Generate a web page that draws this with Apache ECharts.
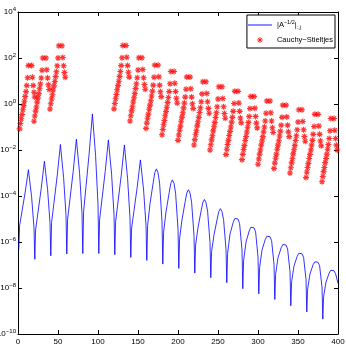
<!DOCTYPE html>
<html>
<head>
<meta charset="utf-8">
<script src="https://cdn.jsdelivr.net/npm/echarts@6/dist/echarts.min.js"></script>
<style>
html, body { margin: 0; padding: 0; background: #fff; }
#main { width: 346px; height: 346px; }
</style>
</head>
<body>
<div id="main"></div>
<script>
// x positions and log10 values of the blue curve
var blueX = [
    1, 2, 5, 9, 13, 17, 20,
    21, 22, 25, 29, 33, 37, 40,
    41, 42, 45, 49, 53, 57, 60,
    61, 62, 65, 69, 73, 77, 80,
    81, 82, 85, 89, 93, 97, 100,
    101, 102, 105, 109, 113, 117, 120,
    121, 122, 125, 129, 133, 137, 140,
    141, 142, 145, 149, 153, 157, 160,
    161, 162, 165, 169, 171, 173, 175, 177, 180,
    181, 182, 185, 189, 191, 193, 195, 197, 200,
    201, 202, 205, 209, 211, 213, 215, 217, 220,
    221, 222, 225, 229, 231, 233, 235, 237, 240,
    241, 242, 245, 249, 251, 253, 255, 257, 260,
    261, 262, 265, 269, 271, 273, 275, 277, 280,
    281, 282, 285, 289, 291, 293, 295, 297, 300,
    301, 302, 305, 309, 311, 313, 315, 317, 320,
    321, 322, 325, 329, 331, 333, 335, 337, 340,
    341, 342, 345, 349, 351, 353, 355, 357, 360,
    361, 362, 365, 369, 371, 373, 375, 377, 380,
    381, 382, 385, 389, 391, 393, 395, 397, 400
];
var blueExp = [
    -6.33, -5.29, -4.66, -3.83, -2.86, -4.03, -5.39,
    -6.75, -5.47, -4.71, -3.68, -2.49, -3.72, -5.16,
    -6.60, -5.15, -4.28, -3.12, -1.76, -3.19, -4.85,
    -6.52, -5.02, -4.12, -2.93, -1.53, -3.02, -4.76,
    -6.50, -4.68, -3.59, -2.13, -0.43, -2.25, -4.38,
    -6.50, -5.02, -4.13, -2.94, -1.56, -3.06, -4.80,
    -6.55, -5.12, -4.26, -3.12, -1.78, -3.25, -4.96,
    -6.67, -5.40, -4.63, -3.62, -2.43, -3.74, -5.27,
    -6.80, -5.29, -4.33, -3.42, -2.98, -2.82, -2.99, -3.44, -5.10,
    -6.96, -5.57, -4.69, -3.85, -3.45, -3.30, -3.45, -3.88, -5.42,
    -7.15, -5.85, -5.03, -4.24, -3.87, -3.73, -3.87, -4.27, -5.72,
    -7.35, -6.13, -5.37, -4.63, -4.28, -4.15, -4.29, -4.66, -6.02,
    -7.55, -6.41, -5.69, -5.00, -4.67, -4.55, -4.68, -5.03, -6.32,
    -7.77, -6.50, -5.65, -5.15, -4.98, -4.95, -5.00, -5.20, -6.34,
    -8.03, -6.81, -6.00, -5.52, -5.36, -5.33, -5.38, -5.56, -6.64,
    -8.25, -7.11, -6.35, -5.90, -5.75, -5.72, -5.77, -5.94, -6.97,
    -8.50, -7.41, -6.68, -6.25, -6.11, -6.08, -6.13, -6.30, -7.29,
    -8.77, -7.73, -7.04, -6.62, -6.49, -6.46, -6.51, -6.67, -7.62,
    -9.04, -8.05, -7.38, -6.98, -6.86, -6.83, -6.88, -7.03, -7.96,
    -9.35, -8.38, -7.74, -7.35, -7.23, -7.20, -7.25, -7.38, -7.80
];

// red groups: first x of each group, rising branch, falling branch (log10)
var redStart = [2, 20, 40, 120, 140, 160, 180, 200, 220, 240, 260, 280, 300, 320, 340, 360, 380];
var redLeft = [
    [-1.08, -0.85, -0.64, -0.46, -0.25, -0.07, 0.12, 0.33, 0.54, 0.80, 1.14, 1.67],
    [-0.75, -0.52, -0.31, -0.13, 0.08, 0.26, 0.45, 0.66, 0.87, 1.13, 1.47, 2.00],
    [-0.22, 0.01, 0.22, 0.40, 0.61, 0.79, 0.98, 1.19, 1.40, 1.66, 2.00, 2.53],
    [-0.21, 0.02, 0.23, 0.41, 0.62, 0.80, 0.99, 1.20, 1.41, 1.67, 2.01, 2.54],
    [-0.74, -0.51, -0.30, -0.12, 0.09, 0.27, 0.46, 0.67, 0.88, 1.14, 1.48, 2.01],
    [-1.06, -0.83, -0.62, -0.44, -0.23, -0.05, 0.14, 0.35, 0.56, 0.82, 1.16, 1.69],
    [-1.34, -1.11, -0.90, -0.72, -0.51, -0.33, -0.14, 0.07, 0.28, 0.54, 0.88, 1.41],
    [-1.58, -1.35, -1.14, -0.96, -0.75, -0.57, -0.38, -0.17, 0.04, 0.30, 0.64, 1.17],
    [-1.78, -1.55, -1.34, -1.16, -0.95, -0.77, -0.58, -0.37, -0.16, 0.10, 0.44, 0.97],
    [-2.00, -1.77, -1.56, -1.38, -1.17, -0.99, -0.80, -0.59, -0.38, -0.12, 0.22, 0.75],
    [-2.20, -1.97, -1.76, -1.58, -1.37, -1.19, -1.00, -0.79, -0.58, -0.32, 0.02, 0.55],
    [-2.42, -2.19, -1.98, -1.80, -1.59, -1.41, -1.22, -1.01, -0.80, -0.54, -0.20, 0.33],
    [-2.62, -2.39, -2.18, -2.00, -1.79, -1.61, -1.42, -1.21, -1.00, -0.74, -0.40, 0.13],
    [-2.80, -2.57, -2.36, -2.18, -1.97, -1.79, -1.60, -1.39, -1.18, -0.92, -0.58, -0.05],
    [-3.00, -2.77, -2.56, -2.38, -2.17, -1.99, -1.80, -1.59, -1.38, -1.12, -0.78, -0.25],
    [-3.20, -2.97, -2.76, -2.58, -2.37, -2.19, -2.00, -1.79, -1.58, -1.32, -0.98, -0.45],
    [-3.38, -3.15, -2.94, -2.76, -2.55, -2.37, -2.18, -1.97, -1.76, -1.50, -1.16, -0.63]
];
var redRight = [
    [1.67, 1.16, 0.80, 0.51, 0.30],
    [2.00, 1.49, 1.13, 0.84, 0.63],
    [2.53, 2.02, 1.66, 1.37, 1.16],
    [2.54, 2.03, 1.67, 1.38, 1.17],
    [2.01, 1.50, 1.14, 0.85, 0.64],
    [1.69, 1.18, 0.82, 0.53, 0.32],
    [1.41, 0.90, 0.54, 0.25, 0.04],
    [1.17, 0.66, 0.30, 0.01, -0.20],
    [0.97, 0.46, 0.10, -0.19, -0.40],
    [0.75, 0.24, -0.12, -0.41, -0.62],
    [0.55, 0.04, -0.32, -0.61, -0.82],
    [0.33, -0.18, -0.54, -0.83, -1.04],
    [0.13, -0.38, -0.74, -1.03, -1.24],
    [-0.05, -0.56, -0.92, -1.21, -1.42],
    [-0.25, -0.76, -1.12, -1.41, -1.62],
    [-0.45, -0.96, -1.32, -1.61, -1.82],
    [-0.63, -1.14, -1.50, -1.79, -2.00]
];

var seriesNames = ['A', 'Cauchy\u2212Stieltjes'];

var myChart = echarts.init(document.getElementById('main'));

var blueData = blueX.map(function (x, i) {
    return [x, Math.pow(10, blueExp[i])];
});

var redData = [];
for (var g = 0; g < redStart.length; g++) {
    for (var i = 0; i < redLeft[g].length; i++) {
        redData.push([redStart[g] + i, Math.pow(10, redLeft[g][i])]);
    }
    for (var j = 0; j < redRight[g].length; j++) {
        redData.push([redStart[g] + 15 + j, Math.pow(10, redRight[g][j])]);
    }
}

var font = 'Liberation Sans';
var black = '#000';
var star = 'path://M0,-10L0,10M-10,0L10,0M-7,-7L7,7M-7,7L7,-7';

function yLabel(v) {
    var e = Math.round(Math.log(v) / Math.LN10);
    return '{b|10}{s|' + String(e).replace('-', '\u2212') + '}';
}

var yRich = {
    b: { fontSize: 8, fontFamily: font, color: black },
    s: { fontSize: 6, fontFamily: font, color: black, verticalAlign: 'bottom', padding: [0, 0, 6, 0] }
};

function xAxisCfg(pos, labels) {
    return {
        type: 'value', position: pos, min: 0, max: 400, interval: 50,
        axisLine: { show: true, onZero: false, lineStyle: { color: black, width: 1 } },
        axisTick: { show: true, inside: true, length: 4, lineStyle: { color: black } },
        axisLabel: { show: labels, fontSize: 8, fontFamily: font, color: black, margin: 4 },
        splitLine: { show: false }
    };
}

function yAxisCfg(pos, labels) {
    return {
        type: 'log', logBase: 100, position: pos, min: 1e-10, max: 1e4,
        axisLine: { show: true, onZero: false, lineStyle: { color: black, width: 1 } },
        axisTick: { show: true, inside: true, length: 4, lineStyle: { color: black } },
        axisLabel: { show: labels, margin: 2, formatter: yLabel, rich: yRich },
        splitLine: { show: false },
        minorTick: { show: false }
    };
}

var option = {
    animation: false,
    backgroundColor: '#fff',
    grid: { left: 18, right: 8, top: 12, bottom: 12, outerBoundsMode: 'none', containLabel: false },
    legend: {
        orient: 'vertical', right: 11, top: 15, align: 'left',
        itemWidth: 24, itemHeight: 6, itemGap: 6,
        padding: [4, 2, 4, 1],
        borderColor: black, borderWidth: 1, backgroundColor: '#fff',
        textStyle: {
            fontSize: 7.5, fontFamily: font, color: black,
            rich: {
                t: { fontSize: 7.5, fontFamily: font, color: black },
                sup: { fontSize: 5.5, fontFamily: font, color: black, verticalAlign: 'bottom', padding: [0, 0, 6, 0] },
                sub: { fontSize: 5.5, fontFamily: font, color: black, verticalAlign: 'top', padding: [5, 0, 0, 0] }
            }
        },
        formatter: function (name) {
            if (name === 'A') {
                return '{t||A}{sup|\u22121/2}{t||}{sub|:,j}';
            }
            return name;
        },
        data: [
            { name: seriesNames[0], icon: 'path://M0,0H26V1H0Z' },
            { name: seriesNames[1], icon: star, itemStyle: { borderWidth: 1 } }
        ]
    },
    xAxis: [xAxisCfg('bottom', true), xAxisCfg('top', false)],
    yAxis: [yAxisCfg('left', true), yAxisCfg('right', false)],
    series: [{
        name: seriesNames[0],
        type: 'line',
        xAxisIndex: 0,
        yAxisIndex: 0,
        symbol: 'none',
        lineStyle: { color: '#0000ff', width: 0.8 },
        itemStyle: { color: '#0000ff' },
        data: blueData
    }, {
        name: seriesNames[1],
        type: 'scatter',
        xAxisIndex: 0,
        yAxisIndex: 0,
        symbol: star,
        symbolSize: 6,
        itemStyle: { color: '#ff0000', borderColor: '#ff0000', borderWidth: 1.1 },
        data: redData
    }]
};

myChart.setOption(option);
</script>
</body>
</html>
